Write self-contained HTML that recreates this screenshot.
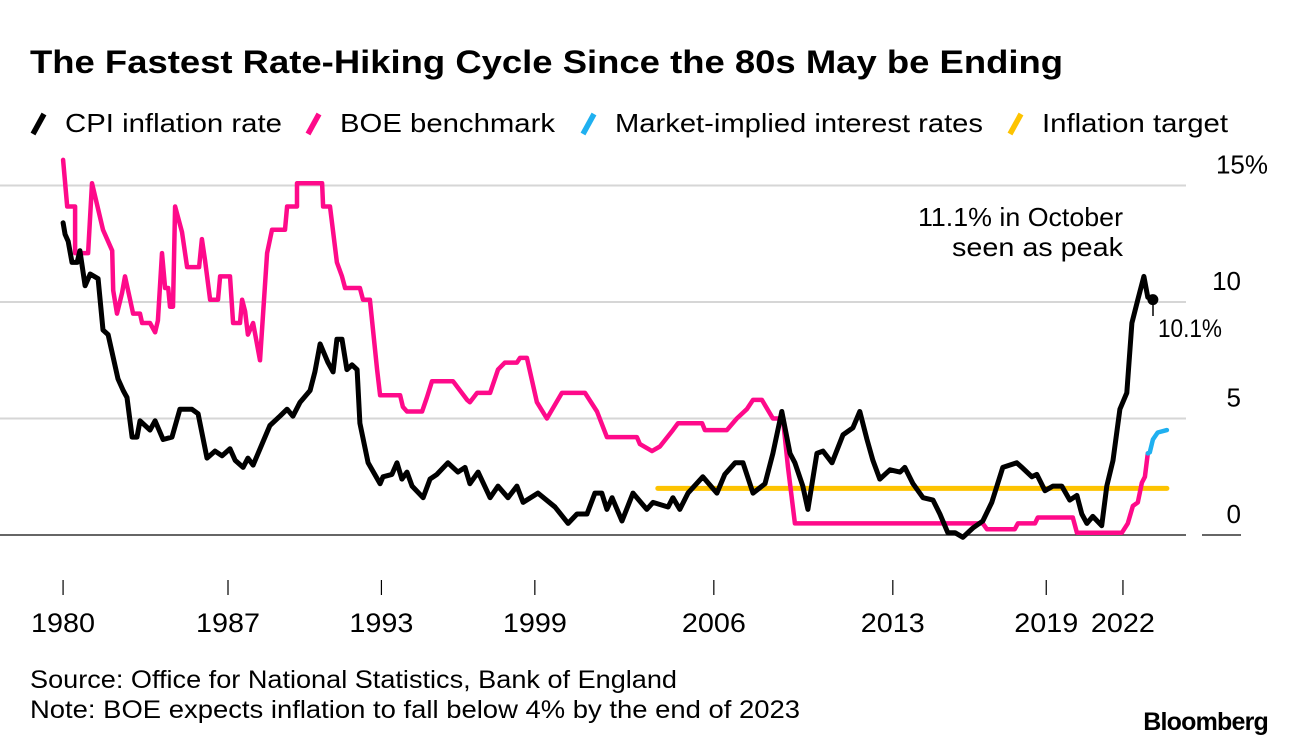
<!DOCTYPE html>
<html><head><meta charset="utf-8">
<style>
html,body{margin:0;padding:0;background:#fff;}
svg{display:block;font-family:"Liberation Sans",Arial,sans-serif;}
</style></head>
<body>
<svg id="chart" width="1296" height="748" viewBox="0 0 1296 748" xmlns="http://www.w3.org/2000/svg">
<text x="30" y="73" font-size="32" font-weight="bold" textLength="1033" lengthAdjust="spacingAndGlyphs">The Fastest Rate-Hiking Cycle Since the 80s May be Ending</text>
<g font-size="26">
 <g><line x1="33" y1="134" x2="44" y2="114" stroke="#000" stroke-width="5.5"/><text x="65" y="132" textLength="217" lengthAdjust="spacingAndGlyphs">CPI inflation rate</text></g>
 <g><line x1="308" y1="134" x2="319" y2="114" stroke="#fe0a8a" stroke-width="5.5"/><text x="340" y="132" textLength="215" lengthAdjust="spacingAndGlyphs">BOE benchmark</text></g>
 <g><line x1="583" y1="134" x2="594" y2="114" stroke="#1fb0f0" stroke-width="5.5"/><text x="615" y="132" textLength="368" lengthAdjust="spacingAndGlyphs">Market-implied interest rates</text></g>
 <g><line x1="1010" y1="134" x2="1021" y2="114" stroke="#fdc300" stroke-width="5.5"/><text x="1042" y="132" textLength="186" lengthAdjust="spacingAndGlyphs">Inflation target</text></g>
</g>
<g id="grid"></g>
<g id="xaxis"></g>
<g id="series"></g>
<text x="918" y="226" font-size="26" textLength="205" lengthAdjust="spacingAndGlyphs">11.1% in October</text>
<text x="952" y="256" font-size="26" textLength="171" lengthAdjust="spacingAndGlyphs">seen as peak</text>
<line x1="1153" y1="300" x2="1153" y2="316" stroke="#000" stroke-width="1.5"/>
<text x="1158" y="337" font-size="25" textLength="64" lengthAdjust="spacingAndGlyphs">10.1%</text>
<text x="30" y="688" font-size="25" textLength="647" lengthAdjust="spacingAndGlyphs">Source: Office for National Statistics, Bank of England</text>
<text x="30" y="718" font-size="25" textLength="770" lengthAdjust="spacingAndGlyphs">Note: BOE expects inflation to fall below 4% by the end of 2023</text>
<text x="1268" y="730" font-size="25" font-weight="bold" text-anchor="end" letter-spacing="-0.8">Bloomberg</text>
</svg>
<script>
const yTicks = [0, 5, 10, 15];
const yTickLabels = ["0", "5", "10", "15%"];
const xTickYears = [1980, 1987, 1993, 1999, 2006, 2013, 2019, 2022];
const xTickPos = [1980.55, 1987, 1993, 1999, 2006, 2013, 2019, 2022];
const cpiYears = [1980.55,1980.63,1980.75,1980.90,1981.10,1981.21,1981.41,1981.61,1981.92,1982.11,1982.31,1982.70,1982.90,1983.05,1983.25,1983.44,1983.56,1983.95,1984.15,1984.46,1984.81,1985.12,1985.59,1985.83,1986.18,1986.49,1986.77,1987.08,1987.28,1987.59,1987.78,1987.98,1988.33,1988.64,1989.03,1989.31,1989.54,1989.82,1990.21,1990.40,1990.60,1990.91,1991.11,1991.26,1991.46,1991.65,1991.85,1992.05,1992.16,1992.48,1992.95,1993.06,1993.41,1993.61,1993.80,1994.00,1994.20,1994.63,1994.90,1995.17,1995.60,1995.99,1996.27,1996.46,1996.78,1997.25,1997.56,1997.95,1998.30,1998.54,1999.12,1999.79,2000.30,2000.65,2001.04,2001.35,2001.62,2001.82,2002.02,2002.41,2002.84,2003.38,2003.62,2004.21,2004.40,2004.67,2004.99,2005.57,2006.12,2006.43,2006.83,2007.14,2007.53,2008.00,2008.31,2008.66,2008.98,2009.17,2009.48,2009.68,2010.03,2010.27,2010.62,2011.05,2011.44,2011.71,2011.99,2012.22,2012.49,2012.89,2013.28,2013.47,2013.79,2014.18,2014.57,2014.84,2015.15,2015.43,2015.74,2016.13,2016.52,2016.87,2017.30,2017.85,2018.05,2018.44,2018.63,2018.95,2019.26,2019.61,2019.92,2020.20,2020.39,2020.59,2020.82,2021.17,2021.37,2021.61,2021.88,2022.15,2022.35,2022.58,2022.82,2022.97,2023.17];
const cpiValues = [13.4,12.9,12.6,11.7,11.7,12.2,10.7,11.2,11.0,8.8,8.6,6.7,6.2,5.9,4.2,4.2,4.9,4.5,4.9,4.1,4.2,5.4,5.4,5.2,3.3,3.6,3.4,3.7,3.2,2.9,3.3,3.0,3.9,4.7,5.1,5.4,5.1,5.7,6.2,7.0,8.2,7.4,7.0,8.4,8.4,7.1,7.3,7.1,4.8,3.1,2.2,2.5,2.6,3.1,2.4,2.7,2.1,1.6,2.4,2.6,3.1,2.7,2.9,2.2,2.7,1.6,2.1,1.6,2.1,1.4,1.8,1.2,0.5,0.9,0.9,1.8,1.8,1.1,1.6,0.6,1.8,1.1,1.4,1.2,1.6,1.1,1.8,2.5,1.8,2.6,3.1,3.1,1.8,2.2,3.5,5.3,3.5,3.1,2.1,1.1,3.5,3.6,3.1,4.3,4.6,5.3,4.1,3.2,2.4,2.8,2.7,2.9,2.2,1.6,1.5,0.9,0.1,0.1,-0.1,0.3,0.6,1.4,2.9,3.1,2.9,2.5,2.6,1.9,2.1,2.1,1.5,1.7,0.9,0.5,0.8,0.4,2.1,3.2,5.4,6.1,9.1,10.1,11.1,10.2,10.1];
const boeYears = [1980.55,1980.71,1981.02,1981.02,1981.53,1981.68,1982.11,1982.47,1982.51,1982.66,1982.86,1982.97,1983.17,1983.29,1983.56,1983.64,1983.95,1984.15,1984.26,1984.42,1984.54,1984.66,1984.73,1984.85,1984.93,1985.20,1985.40,1985.87,1985.98,1986.10,1986.30,1986.61,1986.69,1987.08,1987.20,1987.47,1987.55,1987.67,1987.78,1987.98,1988.25,1988.53,1988.72,1989.23,1989.31,1989.70,1989.70,1990.68,1990.72,1990.99,1991.26,1991.46,1991.58,1992.16,1992.28,1992.55,1992.83,1992.95,1993.73,1993.84,1994.00,1994.59,1994.78,1994.98,1995.80,1996.35,1996.46,1996.74,1997.25,1997.56,1997.83,1998.30,1998.42,1998.69,1999.08,1999.47,2000.06,2000.96,2001.43,2001.82,2002.99,2003.11,2003.58,2003.89,2004.40,2004.60,2005.54,2005.65,2006.51,2006.90,2007.29,2007.53,2007.88,2008.31,2008.70,2008.90,2009.17,2016.52,2016.68,2017.77,2017.89,2018.56,2018.67,2020.04,2020.20,2021.96,2022.19,2022.39,2022.58,2022.74,2022.86,2022.97];
const boeValues = [16.1,14.1,14.1,12.1,12.1,15.1,13.1,12.2,10.5,9.5,10.4,11.1,10.1,9.5,9.5,9.1,9.1,8.7,9.2,12.1,10.6,10.6,9.8,9.8,14.1,13.0,11.5,11.5,12.7,11.8,10.1,10.1,11.1,11.1,9.1,9.1,10.1,9.6,8.6,9.1,7.5,12.1,13.1,13.1,14.1,14.1,15.1,15.1,14.1,14.1,11.7,11.1,10.6,10.6,10.1,10.1,7.1,6.0,6.0,5.5,5.3,5.3,5.9,6.6,6.6,5.8,5.7,6.1,6.1,7.1,7.4,7.4,7.6,7.6,5.7,5.0,6.1,6.1,5.3,4.2,4.2,3.9,3.6,3.8,4.5,4.8,4.8,4.5,4.5,5.0,5.4,5.8,5.8,5.0,5.0,2.9,0.5,0.5,0.25,0.25,0.5,0.5,0.75,0.75,0.1,0.1,0.5,1.25,1.4,2.25,2.5,3.5];
const marketYears = [2022.97,2023.05,2023.17,2023.36,2023.72];
const marketValues = [3.5,3.55,4.1,4.4,4.5];
const targetYears = [2003.81,2023.72];
const targetValues = [2.0,2.0];

const NS = "http://www.w3.org/2000/svg";
function xScale(t){ return 228 + (t - 1987) * 25.57; }
function yScale(v){ return 535 - v * 23.3; }
function mk(tag, attrs, parent){ const e = document.createElementNS(NS, tag); for (const k in attrs) e.setAttribute(k, attrs[k]); parent.appendChild(e); return e; }

const grid = document.getElementById('grid');
yTicks.forEach((v, i) => {
  const y = yScale(v);
  const ln = mk('line', {x1: 0, x2: 1186, y1: y, y2: y, stroke: v === 0 ? '#333' : '#d6d6d6', 'stroke-width': v === 0 ? 1.5 : 2}, grid);
  
  
  const lb = mk('text', {x: i === 3 ? 1268 : 1241, y: y - 12, 'font-size': 26, 'text-anchor': 'end'}, grid);
  lb.textContent = yTickLabels[i];
  
  
});
const zs = mk('line', {x1: 1202, x2: 1241, y1: yScale(0), y2: yScale(0), stroke: '#333', 'stroke-width': 1.5}, grid);



const xa = document.getElementById('xaxis');
xTickYears.forEach((yr, i) => {
  const x = xScale(xTickPos[i]);
  const t = mk('line', {x1: x, x2: x, y1: 580, y2: 595, stroke: '#000', 'stroke-width': 1.2}, xa);
  
  
  const lb = mk('text', {x: x, y: 632, 'font-size': 27, 'text-anchor': 'middle', textLength: 64, lengthAdjust: 'spacingAndGlyphs'}, xa);
  lb.textContent = String(yr);
  
  
});

const sg = document.getElementById('series');
function drawLine(xs, vs, color, w, name){
  const pts = xs.map((t, i) => xScale(t).toFixed(1) + ',' + yScale(vs[i]).toFixed(1)).join(' ');
  const p = mk('polyline', {points: pts, fill: 'none', stroke: color, 'stroke-width': w, 'stroke-linejoin': 'round', 'stroke-linecap': 'round'}, sg);
  
  
}
drawLine(targetYears, targetValues, '#fdc300', 5, 'inflation-target-line');
drawLine(boeYears, boeValues, '#fe0a8a', 4.5, 'boe-benchmark-line');
drawLine(marketYears, marketValues, '#1fb0f0', 4.5, 'market-implied-line');
drawLine(cpiYears, cpiValues, '#000', 5, 'cpi-inflation-line');
const n = cpiYears.length - 1;
const dot = mk('circle', {cx: xScale(cpiYears[n]), cy: yScale(cpiValues[n]), r: 5.5, fill: '#000'}, sg);


</script>
</body></html>
